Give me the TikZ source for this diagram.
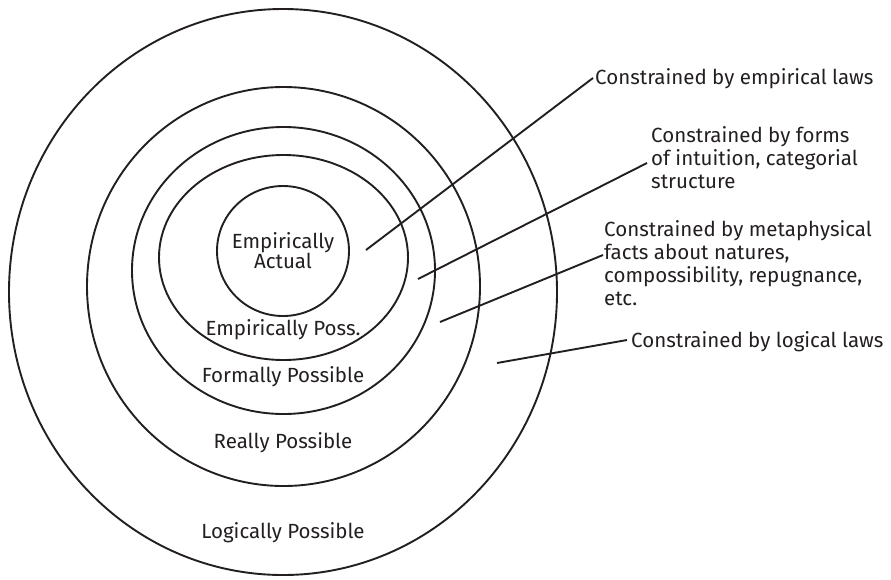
\documentclass[tikz,border=0pt]{standalone}
\usepackage{fontspec}
\setmainfont{Fira Sans}
\definecolor{ink}{HTML}{231F20}
\tikzset{
  ring/.style={draw=ink, line width=1.9pt},
  lead/.style={draw=ink, line width=1.9pt},
  zone/.style={text=ink, inner sep=0pt, anchor=base, font=\fontsize{20.5}{20}\selectfont},
  note/.style={text=ink, inner sep=0pt, anchor=base west, font=\fontsize{20.5}{23.2}\selectfont},
}
\newcommand{\lines}[1]{\begin{tabular}[t]{@{}l@{}}#1\end{tabular}}
\begin{document}
\begin{tikzpicture}[x=1pt,y=-1pt]
\useasboundingbox (0,0) rectangle (891,579);
% rings
\draw[ring] (283,292) ellipse [x radius=274, y radius=283];
\draw[ring] (283.5,286.5) ellipse [x radius=196.5, y radius=199.5];
\draw[ring] (283.5,270.5) ellipse [x radius=151.5, y radius=143.5];
\draw[ring] (283.5,257.5) ellipse [x radius=124.5, y radius=102.5];
\draw[ring] (283,251) ellipse [x radius=66, y radius=65];
% zone labels
\node[zone] (actual1) at (283,248) {Empirically};
\node[zone] (actual2) at (283,268) {Actual};
\node[zone] (eposs) at (283,335) {Empirically Poss.};
\node[zone] (formal) at (283,382) {Formally Possible};
\node[zone] (real) at (283,448) {Really Possible};
\node[zone] (logic) at (283,538) {Logically Possible};
% notes
\node[note] (n1) at (595,84) {Constrained by empirical laws};
\node[note] (n2) at (651,142) {\lines{Constrained by forms\\of intuition, categorial\\structure}};
\node[note] (n3) at (604,236) {\lines{Constrained by metaphysical\\facts about natures,\\compossibility, repugnance,\\etc.}};
\node[note] (n4) at (631,347) {Constrained by logical laws};
% leader ends
\coordinate (p1) at (366,250);
\coordinate (q1) at (593,78);
\coordinate (p2) at (418,279);
\coordinate (q2) at (647,163);
\coordinate (p3) at (440,322);
\coordinate (q3) at (603,255);
\coordinate (p4) at (497,363);
\coordinate (q4) at (627,340);
\draw[lead] (p1) -- (q1);
\draw[lead] (p2) -- (q2);
\draw[lead] (p3) -- (q3);
\draw[lead] (p4) -- (q4);
\end{tikzpicture}
\end{document}
